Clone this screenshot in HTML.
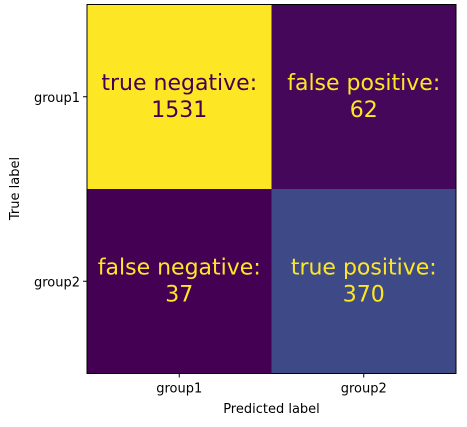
<!DOCTYPE html>
<html><head><meta charset="utf-8"><style>
body{margin:0;background:#fff;}
svg{display:block;font-family:"DejaVu Sans","Liberation Sans",sans-serif;}
</style></head><body>
<svg id="chart" width="467" height="427">
<g id="cells"></g>
<rect x="87" y="4.5" width="369" height="369" fill="none" stroke="#000" stroke-width="1"/>
<g id="ticks" font-size="13" fill="#000"></g>
<text x="271.5" y="413" font-size="13" text-anchor="middle">Predicted label</text>
<text x="0" y="0" font-size="13" text-anchor="middle" transform="translate(19,188.5) rotate(-90)">True label</text>
</svg>
<script>
const categories = ["group1", "group2"];
const values = [[1531, 62], [37, 370]];
const cellLabels = [["true negative:", "false positive:"], ["false negative:", "true positive:"]];

const ns = "http://www.w3.org/2000/svg";
const x0 = 87, y0 = 4.5, size = 369;
const n = categories.length, cw = size / n;
const flat = values.flat(), vmin = Math.min(...flat), vmax = Math.max(...flat);
const stops = [[0,[68,1,84]],[0.1,[72,36,117]],[0.2,[65,68,135]],[0.3,[53,95,141]],[0.4,[42,120,142]],[0.5,[33,145,140]],[0.6,[34,168,132]],[0.7,[68,191,112]],[0.8,[122,209,81]],[0.9,[189,223,38]],[1,[253,231,37]]];
function viridis(t){
  t=Math.max(0,Math.min(1,t));
  for(let i=0;i<stops.length-1;i++){
    const [a,ca]=stops[i],[b,cb]=stops[i+1];
    if(t<=b){const f=(t-a)/(b-a);return "rgb("+ca.map((c,k)=>Math.round(c+(cb[k]-c)*f)).join(",")+")";}
  }
}
const xPos = j => x0 + cw * j;
const yPos = i => y0 + cw * i;
const cells = document.getElementById("cells");
for(let i=0;i<n;i++)for(let j=0;j<n;j++){
  const v = values[i][j], t = (v - vmin) / (vmax - vmin);
  const r = document.createElementNS(ns,"rect");
  r.setAttribute("x",xPos(j));r.setAttribute("y",yPos(i));
  r.setAttribute("width",cw);r.setAttribute("height",cw);
  r.setAttribute("fill",viridis(t));
  
  
  cells.appendChild(r);
  const col = t > 0.5 ? "#440154" : "#fde725";
  const cx = xPos(j) + cw/2, cy = yPos(i) + cw/2;
  const tx = document.createElementNS(ns,"text");
  tx.setAttribute("x",cx);tx.setAttribute("text-anchor","middle");
  tx.setAttribute("font-size","22");tx.setAttribute("fill",col);
  
  
  const t1 = document.createElementNS(ns,"tspan");
  t1.setAttribute("x",cx);t1.setAttribute("y",cy-7);t1.textContent=cellLabels[i][j];
  const t2 = document.createElementNS(ns,"tspan");
  t2.setAttribute("x",cx);t2.setAttribute("y",cy+20);t2.textContent=v;
  tx.appendChild(t1);tx.appendChild(t2);
  cells.appendChild(tx);
}
const ticks = document.getElementById("ticks");
categories.forEach((c,k)=>{
  const cx = xPos(k)+cw/2, cy = yPos(k)+cw/2;
  const lx=document.createElementNS(ns,"line");
  lx.setAttribute("x1",cx);lx.setAttribute("x2",cx);lx.setAttribute("y1",y0+size);lx.setAttribute("y2",y0+size+4);lx.setAttribute("stroke","#000");
  
  
  ticks.appendChild(lx);
  const tx=document.createElementNS(ns,"text");
  tx.setAttribute("x",cx);tx.setAttribute("y",y0+size+19);tx.setAttribute("text-anchor","middle");tx.textContent=c;
  
  
  ticks.appendChild(tx);
  const ly=document.createElementNS(ns,"line");
  ly.setAttribute("x1",x0-4);ly.setAttribute("x2",x0);ly.setAttribute("y1",cy);ly.setAttribute("y2",cy);ly.setAttribute("stroke","#000");
  
  
  ticks.appendChild(ly);
  const ty=document.createElementNS(ns,"text");
  ty.setAttribute("x",x0-7);ty.setAttribute("y",cy+5);ty.setAttribute("text-anchor","end");ty.textContent=c;
  
  
  ticks.appendChild(ty);
});
</script>
</body></html>
